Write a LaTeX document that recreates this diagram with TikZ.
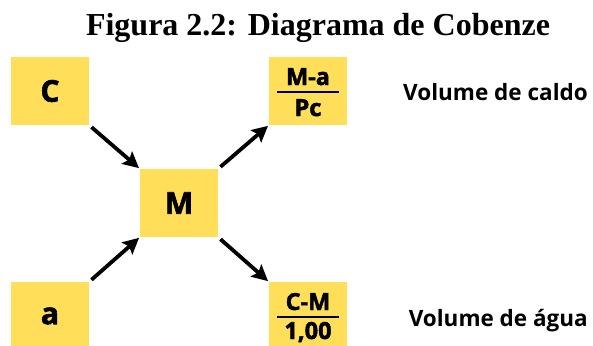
\documentclass[tikz,border=0pt]{standalone}
\usepackage{fontspec}
\setmainfont{Liberation Serif}
\newfontfamily\osans{Open Sans}
\newfontfamily\osansheavy{Open Sans}[FakeBold=2]
\usetikzlibrary{arrows.meta,calc}
\definecolor{boxyellow}{HTML}{FFDE59}
\tikzset{
  ybox/.style={rectangle, fill=boxyellow, draw=none, minimum width=78pt, minimum height=68pt, inner sep=0pt},
  biglabel/.style={font=\osansheavy\bfseries\fontsize{30}{32}\selectfont, inner sep=0pt},
  fraclabel/.style={font=\osansheavy\bfseries\fontsize{23.5}{25}\selectfont, inner sep=0pt, anchor=base},
  fracrule/.style={line width=2pt},
  sidelabel/.style={font=\osans\bfseries\fontsize{22.5}{24}\selectfont, inner sep=0pt, anchor=base east},
  arr/.style={line width=3.8pt, -{Stealth[length=16pt,width=16pt,inset=3pt]}, shorten <=3pt, shorten >=1pt},
}
\begin{document}
\begin{tikzpicture}[x=1pt,y=-1pt]
\clip (0,0) rectangle (593,345);
\fill[white] (0,0) rectangle (593,345);
\node[font=\bfseries\fontsize{32}{34}\selectfont, anchor=base, inner sep=0pt] (title) at (318,36) {Figura 2.2: Diagrama de Cobenze};

\node[ybox] (c) at (50,91) {};
\node[biglabel] (clab) at (c.center) {C};
\node[ybox] (m) at (179,203) {};
\node[biglabel] (mlab) at (m.center) {M};
\node[ybox] (a) at (50,316) {};
\node[biglabel] (alab) at (a.center) {a};

\node[ybox] (ma) at (308,91) {};
\node[fraclabel] (manum) at ($(ma.center)+(0,-6)$) {M-a};
\node[fraclabel] (maden) at ($(ma.center)+(0,25)$) {Pc};
\draw[fracrule] ($(ma.center)+(-31,1)$) coordinate (mar1) -- ($(ma.center)+(31,1)$) coordinate (mar2);

\node[ybox] (cm) at (308,316) {};
\node[fraclabel] (cmnum) at ($(cm.center)+(0,-6)$) {C-M};
\node[fraclabel] (cmden) at ($(cm.center)+(0,23)$) {1,00};
\draw[fracrule] ($(cm.center)+(-31,0.5)$) coordinate (cmr1) -- ($(cm.center)+(31,0.5)$) coordinate (cmr2);

\node[sidelabel] (vc) at (588,100) {Volume de caldo};
\node[sidelabel] (va) at (588,326) {Volume de água};

\draw[arr] (c.south east) -- (m.north west);
\draw[arr] (a.north east) -- (m.south west);
\draw[arr] (m.north east) -- (ma.south west);
\draw[arr] (m.south east) -- (cm.north west);
\end{tikzpicture}
\end{document}
